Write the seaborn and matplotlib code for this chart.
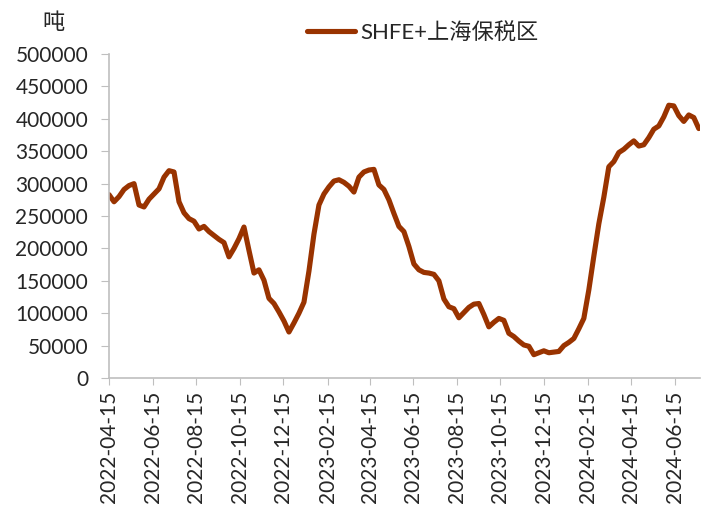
import matplotlib
matplotlib.use("Agg")
import matplotlib.pyplot as plt
import matplotlib.dates as mdates
import pandas as pd
import seaborn as sns

# weekly stock, SHFE + Shanghai bonded zone (tonnes)
start_date = "2022-04-15"
stock = [
    283, 272, 280, 291, 297, 300, 267, 264, 276, 284,
    292, 310, 320, 318, 272, 255, 246, 242, 230, 234,
    226, 220, 214, 209, 187, 200, 215, 233, 197, 162,
    167, 151, 123, 115, 102, 88, 71, 85, 100, 117,
    165, 222, 267, 284, 295, 304, 306, 302, 296, 287,
    310, 318, 321, 322, 298, 291, 275, 254, 234, 226,
    203, 176, 167, 163, 162, 160, 150, 122, 110, 107,
    93, 101, 109, 114, 115, 98, 79, 86, 92, 89,
    69, 64, 57, 51, 49, 36, 39, 42, 39, 40,
    41, 50, 55, 61, 76, 92, 136, 188, 238, 279,
    326, 334, 348, 353, 360, 366, 358, 360, 371, 384,
    389, 403, 421, 420, 405, 396, 406, 402, 385,
]
tick_dates = ["2022-04-15", "2022-06-15", "2022-08-15", "2022-10-15",
              "2022-12-15", "2023-02-15", "2023-04-15", "2023-06-15",
              "2023-08-15", "2023-10-15", "2023-12-15", "2024-02-15",
              "2024-04-15", "2024-06-15"]
series_name = "SHFE+上海保税区"
unit = "吨"

df = pd.DataFrame({
    "date": pd.date_range(start_date, periods=len(stock), freq="7D"),
    "value": [v * 1000 for v in stock],
})

sns.set_style("white")
plt.rcParams["font.family"] = ["Lato", "Noto Sans CJK SC", "DejaVu Sans"]

fig = plt.figure(figsize=(7.08, 5.07), dpi=100)
ax = fig.add_axes([0.154, 0.2544, 0.835, 0.639])

sns.lineplot(data=df, x="date", y="value", ax=ax, color="#993300",
             linewidth=3.7, label=series_name)

ax.set_ylim(0, 500000)
ax.set_yticks(range(0, 500001, 50000))
ax.set_xlim(df["date"].iloc[0], df["date"].iloc[-1] + pd.Timedelta(days=2))
ax.set_xticks(pd.to_datetime(tick_dates))
ax.xaxis.set_major_formatter(mdates.DateFormatter("%Y-%m-%d"))
ax.tick_params(axis="x", rotation=90, labelsize=15, length=5, color="#bfbfbf",
               direction="out", bottom=True, pad=4)
ax.tick_params(axis="y", labelsize=15, length=6, color="#bfbfbf",
               direction="out", left=True, pad=9)
ax.set_xlabel("")
ax.set_ylabel("")

for side in ["top", "right"]:
    ax.spines[side].set_visible(False)
for side in ["left", "bottom"]:
    ax.spines[side].set_color("#bfbfbf")
    ax.spines[side].set_linewidth(1.2)

ax.legend(loc="upper center", bbox_to_anchor=(0.53, 1.16), frameon=False,
          fontsize=16, handlelength=2.2, handletextpad=0.2)
fig.text(0.075, 0.955, unit, fontsize=16, ha="center", va="center")

fig.savefig("out.png", dpi=100)
